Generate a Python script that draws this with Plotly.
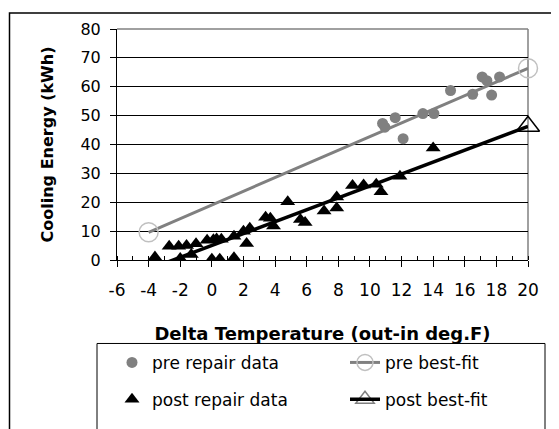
import plotly.graph_objects as go

# ---------------- data ----------------
pre_x = [10.8, 10.95, 11.6, 12.1, 13.35, 14.05, 15.1, 16.5, 17.1, 17.4, 17.7, 18.2]
pre_y = [47.3, 46.0, 49.3, 42.0, 50.7, 50.7, 58.7, 57.4, 63.4, 62.1, 57.1, 63.4]

post_x = [-3.6, -2.7, -2.1, -2.0, -1.6, -1.3, -1.0, -0.3, 0.1, 0.3, 0.6, 0.0, 0.5,
          1.4, 1.4, 2.0, 2.4, 2.2, 3.4, 3.7, 3.9, 4.8, 5.6, 5.9, 7.1, 7.9, 7.9,
          8.9, 9.6, 10.4, 10.7, 11.9, 14.0]
post_y = [1.0, 4.8, 4.8, 0.5, 5.0, 1.9, 5.6, 6.8, 7.0, 7.3, 7.2, 0.3, 0.3,
          0.8, 8.2, 10.0, 11.0, 5.7, 14.8, 14.5, 11.8, 20.2, 14.0, 13.0, 17.0, 21.8, 18.0,
          25.8, 26.0, 26.2, 23.6, 29.0, 38.8]

fit_x = [-4, 20]
pre_fit_y = [9.6, 66.4]
post_fit_y = [-3.2, 46.3]

x_ticks = [-6, -4, -2, 0, 2, 4, 6, 8, 10, 12, 14, 16, 18, 20]
y_ticks = [0, 10, 20, 30, 40, 50, 60, 70, 80]

# ---------------- layout helpers ----------------
# the page places the figure 8px from the top-left corner of the window
OFF = 8
W, H = 559 - OFF, 429 - OFF
L, R, T, B = 117 - OFF, 559 - 528, 26 - OFF, 429 - 264
PW, PH = W - L - R, H - T - B

def px(xpage):
    return (xpage - OFF - L) / PW

def py(ypage):
    return (H - B - (ypage - OFF)) / PH

FONT = "DejaVu Sans"
GREY = "#808080"

fig = go.Figure()

fig.add_trace(go.Scatter(
    x=pre_x, y=pre_y, mode="markers", name="pre repair data",
    marker=dict(symbol="circle", size=11, color=GREY), legend="legend"))
fig.add_trace(go.Scatter(
    x=fit_x, y=pre_fit_y, mode="lines+markers", name="pre best-fit",
    line=dict(color=GREY, width=3), cliponaxis=False,
    marker=dict(symbol="circle-open", size=19, color="#c0c0c0", line=dict(width=1.5)),
    legend="legend2"))
fig.add_trace(go.Scatter(
    x=post_x, y=post_y, mode="markers", name="post repair data",
    marker=dict(symbol="triangle-up", size=13, color="black"), legend="legend3"))
fig.add_trace(go.Scatter(
    x=fit_x, y=post_fit_y, mode="lines+markers", name="post best-fit",
    line=dict(color="black", width=3.5), cliponaxis=False,
    marker=dict(symbol="triangle-up-open", size=20, color="black", line=dict(width=1.5),
                opacity=[0, 1]),
    legend="legend4"))

shapes = [
    # plot area top/right border (grey)
    dict(type="line", xref="paper", yref="paper", x0=0, x1=1, y0=1, y1=1,
         line=dict(color=GREY, width=1.5), layer="above"),
    dict(type="line", xref="paper", yref="paper", x0=1, x1=1, y0=0, y1=1,
         line=dict(color=GREY, width=1.5), layer="below"),
    # outer chart border
    dict(type="rect", xref="paper", yref="paper", x0=px(9.5), x1=px(570), y0=py(9.5), y1=py(450),
         line=dict(color="black", width=1.5), layer="above"),
    # legend box
    dict(type="rect", xref="paper", yref="paper", x0=px(97), x1=px(545), y0=py(350), y1=py(460),
         line=dict(color="black", width=1), layer="above"),
]

def leg(xpage, ypage):
    return dict(orientation="v", xref="paper", yref="paper",
                x=px(xpage), y=py(ypage), xanchor="left", yanchor="middle",
                font=dict(family=FONT, size=17, color="black"),
                bgcolor="rgba(0,0,0,0)", borderwidth=0, itemclick=False)

fig.update_layout(
    width=W, height=H,
    margin=dict(l=L, r=R, t=T, b=B),
    paper_bgcolor="white", plot_bgcolor="rgba(0,0,0,0)",
    font=dict(family=FONT, color="black"),
    showlegend=True,
    legend=leg(112, 370),
    legend2=leg(345, 370),
    legend3=leg(112, 408),
    legend4=leg(345, 408),
    shapes=shapes,
    xaxis=dict(
        range=[-6, 20], tickvals=x_ticks, ticktext=[str(v) for v in x_ticks],
        ticks="outside", ticklen=6, tickcolor="black", tickwidth=1,
        showline=True, linecolor="black", linewidth=1, showgrid=False, zeroline=False,
        tickfont=dict(family=FONT, size=17), ticklabelstandoff=9,
        minor=dict(dtick=1, tick0=-6, ticks="inside", ticklen=4, tickcolor="black", showgrid=False),
        title=dict(text="<b>Delta Temperature (out-in deg.F)</b>",
                   font=dict(family=FONT, size=18), standoff=27),
    ),
    yaxis=dict(
        range=[0, 80], tickvals=y_ticks,
        ticks="outside", ticklen=6, tickcolor="black", tickwidth=1,
        showline=True, linecolor="black", linewidth=1,
        showgrid=True, gridcolor="black", gridwidth=1, zeroline=False,
        tickfont=dict(family=FONT, size=16), ticklabelstandoff=6,
        title=dict(text="<b>Cooling Energy (kWh)</b>",
                   font=dict(family=FONT, size=16), standoff=22),
    ),
)

fig.write_html("out.html")
